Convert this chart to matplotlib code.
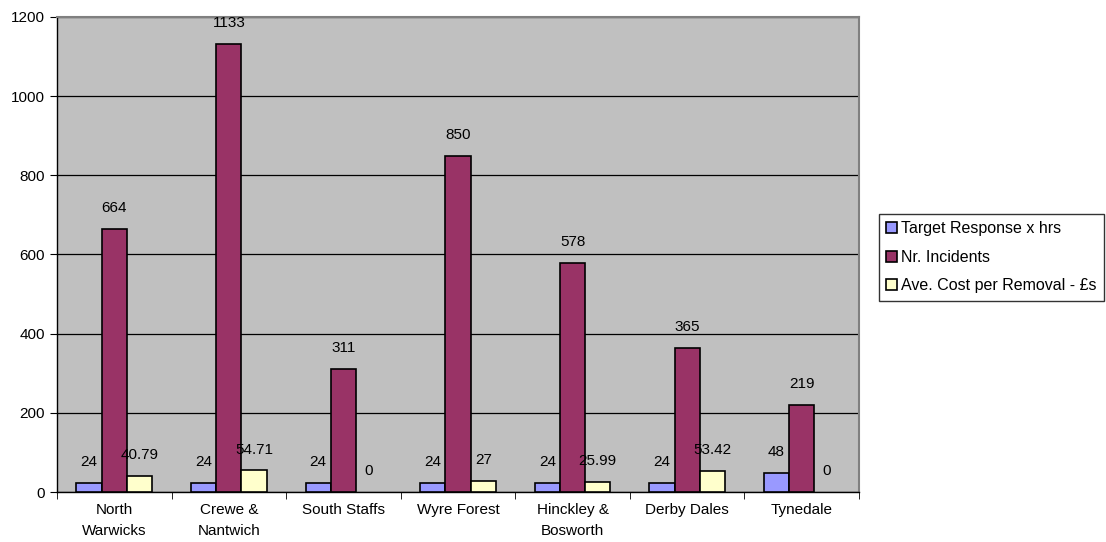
import matplotlib
matplotlib.use("Agg")
import matplotlib.pyplot as plt
import numpy as np

categories = ["North\nWarwicks", "Crewe &\nNantwich", "South Staffs", "Wyre Forest",
              "Hinckley &\nBosworth", "Derby Dales", "Tynedale"]
target_response = [24, 24, 24, 24, 24, 24, 48]
nr_incidents = [664, 1133, 311, 850, 578, 365, 219]
ave_cost = [40.79, 54.71, 0, 27, 25.99, 53.42, 0]
ave_cost_labels = ["40.79", "54.71", "0", "27", "25.99", "53.42", "0"]
series_names = ["Target Response x hrs", "Nr. Incidents", "Ave. Cost per Removal - £s"]
colors = ["#9999FF", "#993366", "#FFFFCC"]

plt.rcParams['font.family'] = ['Liberation Sans', 'DejaVu Sans']
fig = plt.figure(figsize=(11.06, 5.42), dpi=100)
ax = fig.add_axes([57/1106, 50/542, (859-57)/1106, (492-17)/542])
ax.set_facecolor("#C0C0C0")

x = np.arange(len(categories))
w = 0.22
series = [target_response, nr_incidents, ave_cost]
labels_list = [[str(v) for v in target_response], [str(v) for v in nr_incidents], ave_cost_labels]
for i, (vals, col, name, labs) in enumerate(zip(series, colors, series_names, labels_list)):
    pos = x + (i - 1) * w
    bars = ax.bar(pos, vals, width=w, color=col, edgecolor="black", linewidth=1.2, label=name, zorder=3)
    for b, v in zip(bars, vals):
        if v == 0:
            b.set_visible(False)
    for p, v, t in zip(pos, vals, labs):
        ax.annotate(t, (p, v), xytext=(0, 15), textcoords="offset points",
                    ha="center", va="center", fontsize=11, zorder=4)

ax.set_ylim(0, 1200)
ax.set_xlim(-0.5, len(categories) - 0.5)
ax.set_yticks(range(0, 1201, 200))
ax.yaxis.grid(True, color="black", linewidth=0.9, zorder=1)
ax.set_axisbelow(True)
ax.set_xticks(x)
ax.set_xticklabels(categories, fontsize=11, linespacing=1.6)
ax.tick_params(axis="x", length=0, pad=8)
ax.set_xticks(np.arange(-0.5, len(categories), 1), minor=True)
ax.tick_params(axis="x", which="minor", length=5, direction="out")
ax.tick_params(axis="y", length=5, direction="out", labelsize=11)
for s in ["left", "bottom"]:
    ax.spines[s].set_color("black")
    ax.spines[s].set_linewidth(1.0)
for s in ["top", "right"]:
    ax.spines[s].set_color("#808080")
    ax.spines[s].set_linewidth(1.5)

leg = fig.legend(loc="upper left", bbox_to_anchor=(879/1106, 1 - 214/542), fontsize=11.5,
                 frameon=True, fancybox=False, edgecolor="black", borderpad=0.45,
                 handlelength=0.7, handleheight=0.7, handletextpad=0.25, labelspacing=0.85,
                 borderaxespad=0)
leg.get_frame().set_linewidth(1.0)

fig.savefig("out.png", dpi=100)
